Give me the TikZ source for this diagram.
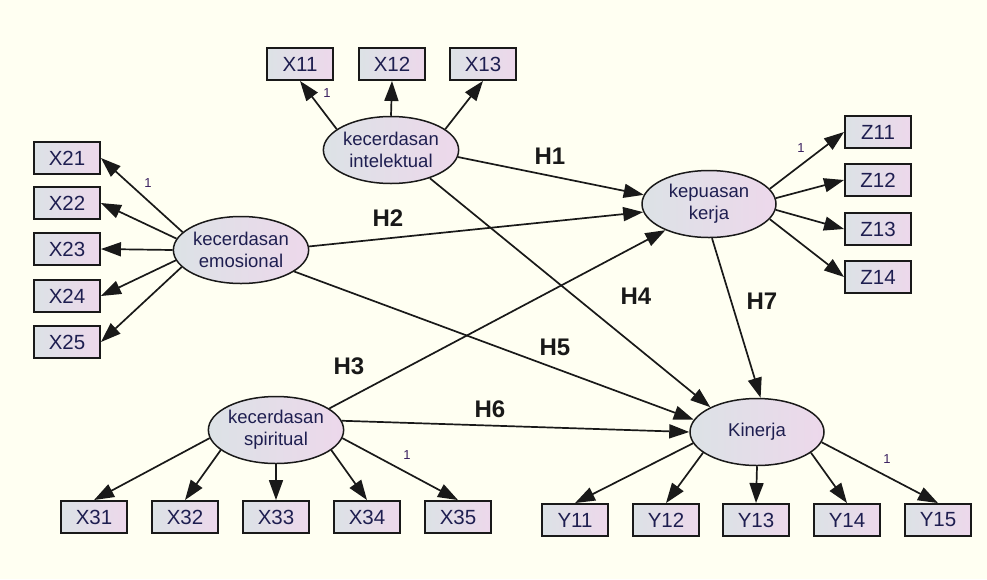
\documentclass[tikz,border=0pt]{standalone}
\usepackage{fontspec}
\setmainfont{Liberation Sans}
\usetikzlibrary{shapes.geometric,arrows.meta}
\definecolor{bgc}{HTML}{FFFFF2}
\definecolor{fillL}{HTML}{DCE2E6}
\definecolor{fillR}{HTML}{EDD8EB}
\definecolor{txtc}{HTML}{1E1E50}
\definecolor{onec}{HTML}{3A2060}
\tikzset{
  obs/.style={draw=black!90, line width=1.9pt, left color=fillL, right color=fillR,
    minimum width=66pt, minimum height=32pt, inner sep=0pt, text=txtc,
    font=\fontsize{20.5}{20.5}\selectfont},
  lat/.style={ellipse, draw=black!90, line width=1.5pt, left color=fillL, right color=fillR,
    minimum width=134pt, minimum height=67pt, inner sep=0pt, text=txtc, align=center,
    font=\fontsize{18.5}{22}\selectfont},
  arr/.style={line width=1.7pt, black!90, -{Triangle[length=20pt,width=14pt]}},
  hlab/.style={font=\fontsize{24}{24}\bfseries\selectfont, text=black!90},
  onelab/.style={font=\fontsize{13}{13}\selectfont, text=onec}
}
\begin{document}
\begin{tikzpicture}[x=1pt,y=-1pt]
\fill[bgc] (0,0) rectangle (987,579);
\useasboundingbox (0,0) rectangle (987,579);

% latent variables
\node[lat] (ki) at (391,150) {kecerdasan\\intelektual};
\node[lat] (ke) at (241,250) {kecerdasan\\emosional};
\node[lat] (ks) at (276,430) {kecerdasan\\spiritual};
\node[lat] (kk) at (709,204) {kepuasan\\kerja};
\node[lat] (kn) at (757,432) {Kinerja};

% observed
\node[obs] (x11) at (300,64) {X11};
\node[obs] (x12) at (392,64) {X12};
\node[obs] (x13) at (483,64) {X13};

\node[obs] (x21) at (67,158) {X21};
\node[obs] (x22) at (67,203) {X22};
\node[obs] (x23) at (67,249) {X23};
\node[obs] (x24) at (67,296) {X24};
\node[obs] (x25) at (67,342) {X25};

\node[obs] (x31) at (94,517) {X31};
\node[obs] (x32) at (185,517) {X32};
\node[obs] (x33) at (276,517) {X33};
\node[obs] (x34) at (367,517) {X34};
\node[obs] (x35) at (458,517) {X35};

\node[obs] (z11) at (878,132) {Z11};
\node[obs] (z12) at (878,180) {Z12};
\node[obs] (z13) at (878,229) {Z13};
\node[obs] (z14) at (878,277) {Z14};

\node[obs] (y11) at (575,520) {Y11};
\node[obs] (y12) at (666,520) {Y12};
\node[obs] (y13) at (756,520) {Y13};
\node[obs] (y14) at (847,520) {Y14};
\node[obs] (y15) at (938,520) {Y15};

% measurement arrows
\draw[arr] (ki.159) -- (x11.south);
\draw[arr] (ki.north) -- (x12.south);
\draw[arr] (ki.21) -- (x13.south);

\draw[arr] (ke.163) -- (x21.east);
\draw[arr] (ke.170) -- (x22.east);
\draw[arr] (ke.180) -- (x23.east);
\draw[arr] (ke.189) -- (x24.east);
\draw[arr] (ke.196) -- (x25.east);

\draw[arr] (ks.187) -- (x31.north);
\draw[arr] (ks.200) -- (x32.north);
\draw[arr] (ks.south) -- (x33.north);
\draw[arr] (ks.340) -- (x34.north);
\draw[arr] (ks.353) -- (x35.north);

\draw[arr] (kk.14) -- (z11.west);
\draw[arr] (kk.5) -- (z12.west);
\draw[arr] (kk.-5) -- (z13.west);
\draw[arr] (kk.-14) -- (z14.west);

\draw[arr] (kn.190) -- (y11.north);
\draw[arr] (kn.201) -- (y12.north);
\draw[arr] (kn.south) -- (y13.north);
\draw[arr] (kn.339) -- (y14.north);
\draw[arr] (kn.351) -- (y15.north);

% structural arrows
\draw[arr] (ki.-6) -- (kk.172);
\draw[arr] (ke.3) -- (kk.187);
\draw[arr] (ks.22) -- (kk.211);
\draw[arr] (ki.-36) -- (kn.152);
\draw[arr] (ke.-22) -- (kn.169);
\draw[arr] (ks.8) -- (kn.180);
\draw[arr] (kk.-85) -- (kn.84);

% hypothesis labels
\node[hlab] (h1) at (550,156) {H1};
\node[hlab] (h2) at (388,218) {H2};
\node[hlab] (h3) at (349,366) {H3};
\node[hlab] (h4) at (636,296) {H4};
\node[hlab] (h5) at (555,347) {H5};
\node[hlab] (h6) at (490,409) {H6};
\node[hlab] (h7) at (762,301) {H7};

% fixed loading labels
\node[onelab] (o1) at (327,93) {1};
\node[onelab] (o2) at (148,183) {1};
\node[onelab] (o3) at (801,148) {1};
\node[onelab] (o4) at (407,455) {1};
\node[onelab] (o5) at (887,459) {1};
\end{tikzpicture}
\end{document}
